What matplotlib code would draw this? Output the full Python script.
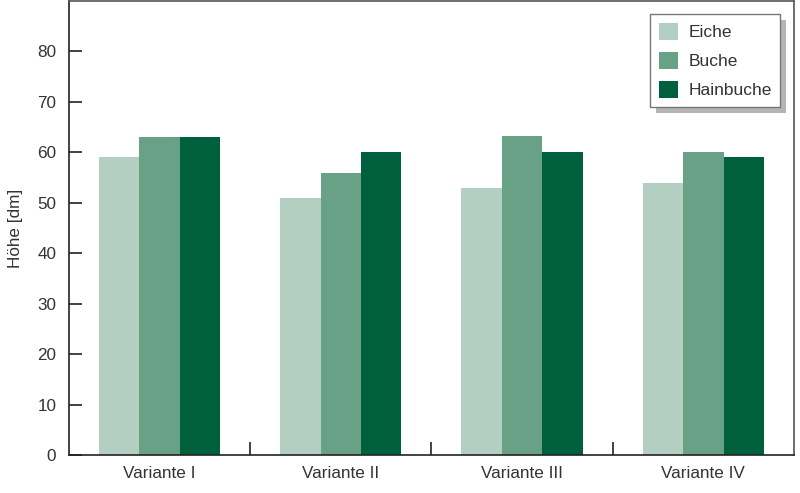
import numpy as np
import matplotlib
matplotlib.use("Agg")
import matplotlib.pyplot as plt
from matplotlib.patches import Rectangle

plt.rcParams['font.family'] = ['Liberation Sans', 'DejaVu Sans']

categories = ["Variante I", "Variante II", "Variante III", "Variante IV"]
series = ["Eiche", "Buche", "Hainbuche"]
eiche = [59, 51, 53, 54]
buche = [63, 56, 63.2, 60]
hainbuche = [63, 60, 60, 59]
colors = ["#b3cfc2", "#68a186", "#005f3c"]
text_col = "#333333"

fig = plt.figure(figsize=(8, 4.93), dpi=100)
ax = fig.add_axes([0.086, 0.077, 0.9065, 0.921])

x = np.arange(len(categories))
w = 0.223
for i, (name, vals) in enumerate(zip(series, [eiche, buche, hainbuche])):
    ax.bar(x + (i - 1) * w, vals, width=w, color=colors[i], label=name, zorder=2)

ax.set_xlim(-0.5, len(categories) - 0.5)
ax.set_ylim(0, 90)
ax.set_yticks(np.arange(0, 90, 10))
ax.set_xticks(x)
ax.set_xticklabels(categories)
ax.set_xticks(x[:-1] + 0.5, minor=True)
ax.tick_params(axis='x', which='major', length=0, pad=8, labelsize=12.3, labelcolor=text_col)
ax.tick_params(axis='x', which='minor', direction='in', length=9.5, width=1.2, color='#222222')
ax.tick_params(axis='y', direction='in', length=9.5, width=1.2, color='#222222', pad=9,
               labelsize=12.3, labelcolor=text_col)
ax.set_ylabel("Höhe [dm]", fontsize=12.3, color=text_col, labelpad=10)

for s in ['left', 'bottom']:
    ax.spines[s].set_color('#222222')
    ax.spines[s].set_linewidth(1.2)
for s in ['top', 'right']:
    ax.spines[s].set_color('#555555')
    ax.spines[s].set_linewidth(1.2)

leg = ax.legend(loc='upper right', bbox_to_anchor=(0.981, 0.971), borderaxespad=0,
                fontsize=12.5, frameon=True, fancybox=False, shadow=False,
                handlelength=1.1, handleheight=1.1, handletextpad=0.6,
                labelspacing=0.68, borderpad=0.5, labelcolor=text_col)
leg.get_frame().set_edgecolor('#777777')
leg.get_frame().set_linewidth(1.0)
leg.get_frame().set_alpha(1)

# drop shadow offset down-right, like the original
fig.canvas.draw()
bb = leg.get_window_extent().transformed(fig.transFigure.inverted())
dx, dy = 6 / 800, 6 / 493
ax.add_artist(Rectangle((bb.x0 + dx, bb.y0 - dy), bb.width, bb.height,
                        transform=fig.transFigure, facecolor='#b5b5b5',
                        edgecolor='none', zorder=4.9, clip_on=False))

fig.savefig("out.png", dpi=100)
